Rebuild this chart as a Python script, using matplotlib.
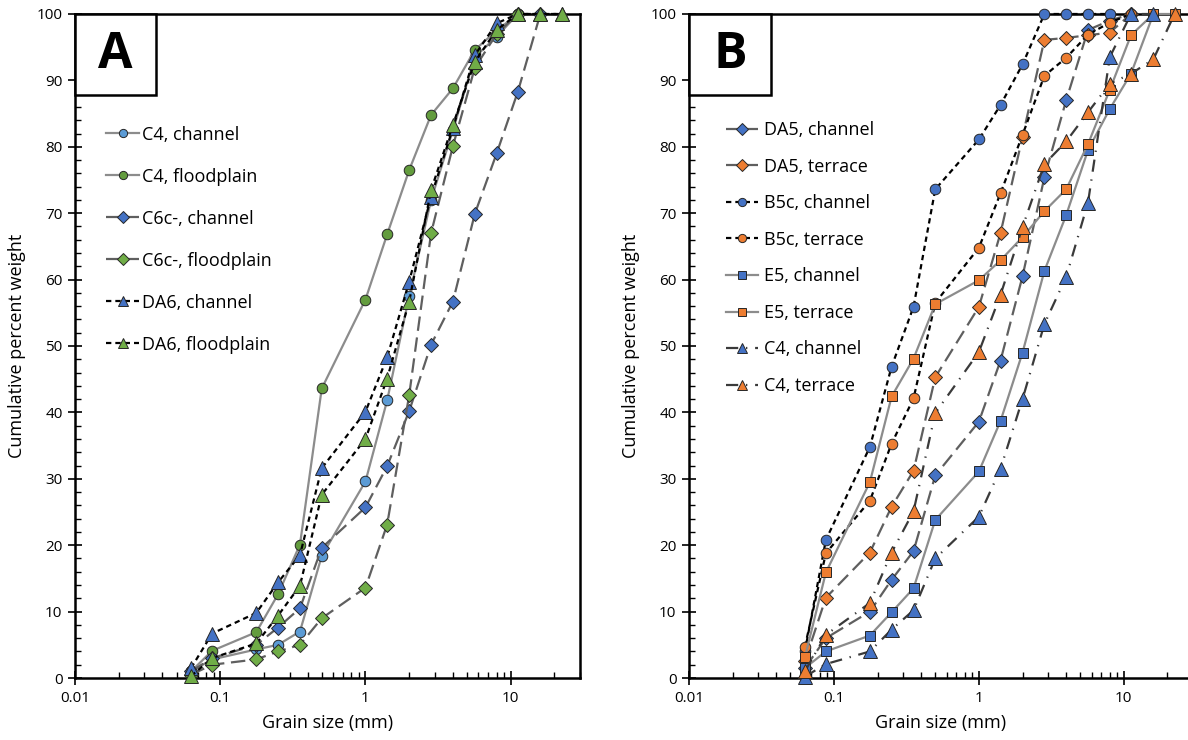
import numpy as np
import matplotlib
matplotlib.use("Agg")
import matplotlib.pyplot as plt
from matplotlib.ticker import MultipleLocator, LogLocator, NullFormatter, FixedLocator, FixedFormatter
from matplotlib.patches import Rectangle

plt.rcParams['font.family'] = ['Open Sans', 'DejaVu Sans']

# sieve sizes (mm), series values are cumulative % from the finest sieve up
sieve = [0.063, 0.088, 0.177, 0.25, 0.354, 0.5, 1, 1.41, 2, 2.83, 4, 5.66, 8, 11.2, 16, 22.4]

# panel A
c4_channel = [1.0, 2.8, 4.3, 5.0, 7.0, 18.4, 29.6, 41.8, 57.5, 72.0, 82.5, 93.5, 96.6, 100]
c4_flood = [1.0, 4.1, 6.9, 12.6, 20.1, 43.6, 57.0, 66.8, 76.5, 84.8, 88.8, 94.6, 97.5, 100]
c6c_channel = [1.0, 3.0, 5.0, 7.6, 10.5, 19.6, 25.7, 31.9, 40.2, 50.2, 56.7, 69.9, 79.0, 88.3, 100]
c6c_flood = [0.5, 2.0, 2.8, 4.0, 5.0, 9.0, 13.6, 23.1, 42.6, 67.0, 80.1, 91.9, 97.0, 100]
da6_channel = [1.5, 6.7, 9.8, 14.4, 18.5, 31.6, 40.1, 48.3, 59.7, 72.5, 82.8, 93.8, 98.6, 100, 100, 100]
da6_flood = [0.3, 3.0, 5.2, 9.4, 13.9, 27.6, 36.0, 45.1, 56.7, 73.5, 83.3, 92.8, 97.6, 100, 100, 100]

# panel B
da5_channel = [1.5, 6.0, 10.0, 14.8, 19.1, 30.5, 38.6, 47.8, 60.5, 75.4, 87.0, 97.6, 99.0, 100]
da5_terrace = [2.5, 12.1, 18.9, 25.8, 31.2, 45.3, 55.9, 67.0, 81.5, 96.1, 96.4, 96.8, 97.2, 100]
b5c_channel = [4.0, 20.8, 34.8, 46.9, 55.9, 73.6, 81.1, 86.3, 92.4, 100, 100, 100, 100]
b5c_terrace = [4.7, 18.8, 26.7, 35.3, 42.1, 56.5, 64.8, 73.0, 81.8, 90.7, 93.4, 96.9, 98.7, 100]
e5_channel = [1.5, 4.0, 6.4, 9.9, 13.5, 23.8, 31.1, 38.7, 49.0, 61.3, 69.7, 79.5, 85.7, 91.0, 100]
e5_terrace = [3.1, 15.9, 29.5, 42.4, 48.1, 56.3, 59.9, 62.9, 66.4, 70.3, 73.6, 80.4, 88.6, 96.8, 100, 100]
c4_channel_b = [0.2, 2.1, 4.0, 7.3, 10.2, 18.0, 24.3, 31.5, 42.0, 53.3, 60.4, 71.6, 93.5, 100, 100]
c4_terrace = [1.0, 6.5, 11.3, 18.9, 25.1, 39.9, 49.1, 57.7, 67.9, 77.4, 80.8, 85.2, 89.5, 91.0, 93.2, 100]

BLUE = '#4472C4'
LBLUE = '#5B9BD5'
GREEN = '#70AD47'
DGREEN = '#639C3E'
ORANGE = '#ED7D31'
GRAY = '#8C8C8C'
DGRAY = '#5F5F5F'

SOLID = 'solid'
LONG = (0, (6.5, 3))
SHORT = (0, (2.4, 1.8))
DASHDOT = (0, (5.5, 3.5, 0.6, 3.5))

series_a = [
    ('C4, channel', c4_channel, 'o', LBLUE, SOLID, GRAY, 7.6),
    ('C4, floodplain', c4_flood, 'o', DGREEN, SOLID, GRAY, 7.6),
    ('C6c-, channel', c6c_channel, 'D', BLUE, LONG, DGRAY, 7.4),
    ('C6c-, floodplain', c6c_flood, 'D', GREEN, LONG, DGRAY, 7.4),
    ('DA6, channel', da6_channel, '^', BLUE, SHORT, 'black', 9.6),
    ('DA6, floodplain', da6_flood, '^', GREEN, SHORT, 'black', 9.6),
]

series_b = [
    ('DA5, channel', da5_channel, 'D', BLUE, LONG, DGRAY, 7.6),
    ('DA5, terrace', da5_terrace, 'D', ORANGE, LONG, DGRAY, 7.6),
    ('B5c, channel', b5c_channel, 'o', BLUE, SHORT, 'black', 7.6),
    ('B5c, terrace', b5c_terrace, 'o', ORANGE, SHORT, 'black', 7.6),
    ('E5, channel', e5_channel, 's', BLUE, SOLID, GRAY, 7.8),
    ('E5, terrace', e5_terrace, 's', ORANGE, SOLID, GRAY, 7.8),
    ('C4, channel', c4_channel_b, '^', BLUE, DASHDOT, '#3A3A3A', 9.8),
    ('C4, terrace', c4_terrace, '^', ORANGE, DASHDOT, '#3A3A3A', 9.8),
]

fig = plt.figure(figsize=(11.88, 7.4), dpi=100)
W, H = 1188, 740


def make_axes(left, right):
    return fig.add_axes([left / W, (H - 678) / H, (right - left) / W, 664 / H])


def style_axes(ax, letter, box_w):
    ax.set_xscale('log')
    ax.set_xlim(0.01, 30)
    ax.set_ylim(0, 100)
    ax.xaxis.set_major_locator(FixedLocator([0.01, 0.1, 1, 10]))
    ax.xaxis.set_major_formatter(FixedFormatter(['0.01', '0.1', '1', '10']))
    ax.xaxis.set_minor_locator(LogLocator(base=10, subs=np.arange(2, 10)))
    ax.xaxis.set_minor_formatter(NullFormatter())
    ax.yaxis.set_major_locator(MultipleLocator(10))
    ax.yaxis.set_minor_locator(MultipleLocator(2))
    ax.tick_params(which='major', direction='inout', length=10, width=1.2, labelsize=11, pad=4)
    ax.tick_params(which='minor', direction='in', length=4, width=1.0)
    for s in ax.spines.values():
        s.set_linewidth(1.8)
        s.set_color('black')
    ax.set_xlabel('Grain size (mm)', fontsize=13, labelpad=6)
    ax.set_ylabel('Cumulative percent weight', fontsize=13, labelpad=6)
    ax.add_patch(Rectangle((0, 1 - 0.122), box_w, 0.122, transform=ax.transAxes,
                           facecolor='white', edgecolor='black', linewidth=1.8, zorder=5, clip_on=False))
    ax.text(box_w / 2, 1 - 0.061, letter, transform=ax.transAxes, ha='center', va='center',
            fontsize=36, fontweight='bold', zorder=6)


def draw(ax, series):
    for label, vals, mk, face, ls, lc, ms in series:
        ax.plot(sieve[:len(vals)], vals, linestyle=ls, color=lc, linewidth=1.6,
                marker=mk, markersize=ms, markerfacecolor=face, markeredgecolor='#262626',
                markeredgewidth=0.7, label=label, clip_on=False, zorder=3)


axA = make_axes(75, 580)
draw(axA, series_a)
style_axes(axA, 'A', 0.16)
axA.yaxis.set_label_coords(-0.098, 0.5)
axA.legend(loc='upper left', bbox_to_anchor=(0.062, 0.832), frameon=False, fontsize=13,
           borderpad=0, borderaxespad=0, handlelength=1.8, handletextpad=0.2,
           labelspacing=1.33, markerscale=0.78)

axB = make_axes(689, 1193)
draw(axB, series_b)
style_axes(axB, 'B', 0.163)
axB.yaxis.set_label_coords(-0.097, 0.5)
axB.legend(loc='upper left', bbox_to_anchor=(0.073, 0.839), frameon=False, fontsize=13,
           borderpad=0, borderaxespad=0, handlelength=1.8, handletextpad=0.3,
           labelspacing=1.03, markerscale=0.78)

fig.savefig('out.png', dpi=100)
